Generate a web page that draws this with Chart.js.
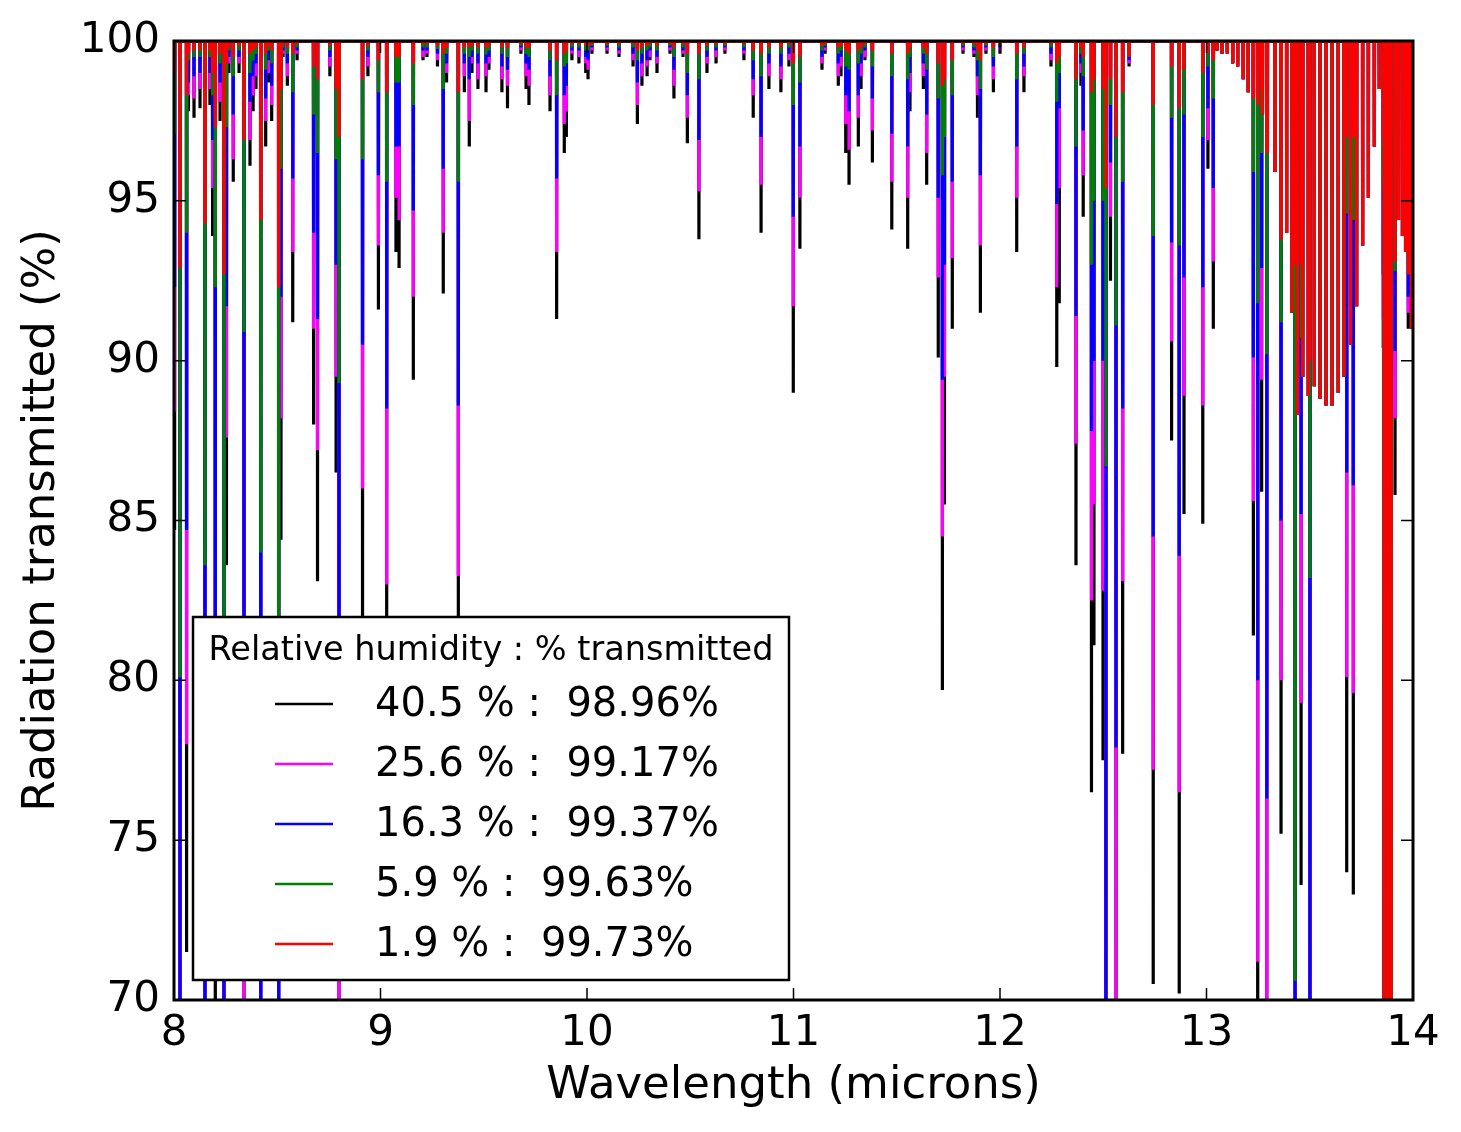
<!DOCTYPE html>
<html lang="en">
<head>
  <meta charset="UTF-8" />
  <title>Radiation transmitted vs wavelength</title>
  <script src="https://cdn.jsdelivr.net/npm/chart.js@4"></script>
  <style>
    body {
      margin: 0;
      background: #ffffff;
    }
    canvas {
      display: block;
    }
  </style>
</head>
<body>
  <canvas id="specChart" width="1461" height="1132"></canvas>

  <script>
    // water absorption lines: position (microns) and minimum transmission (%) per humidity
    const lineWl = [
      8.003, 8.029, 8.061, 8.070, 8.097, 8.126, 8.150, 8.174, 8.187, 8.200,
      8.223, 8.242, 8.254, 8.266, 8.287, 8.315, 8.339, 8.368, 8.383, 8.397,
      8.420, 8.444, 8.460, 8.473, 8.507, 8.518, 8.528, 8.549, 8.575, 8.596,
      8.676, 8.695, 8.755, 8.785, 8.799, 8.913, 8.939, 8.990, 9.030, 9.075,
      9.090, 9.159, 9.206, 9.225, 9.276, 9.304, 9.320, 9.377, 9.406, 9.430,
      9.443, 9.472, 9.511, 9.525, 9.588, 9.615, 9.680, 9.705, 9.719, 9.821,
      9.853, 9.890, 9.900, 9.927, 9.961, 9.994, 10.005, 10.024, 10.097, 10.155,
      10.223, 10.244, 10.266, 10.291, 10.305, 10.339, 10.402, 10.421, 10.465, 10.486,
      10.542, 10.581, 10.625, 10.668, 10.760, 10.805, 10.843, 10.881, 10.939, 10.978,
      10.999, 11.031, 11.138, 11.153, 11.217, 11.230, 11.253, 11.269, 11.314, 11.327,
      11.346, 11.382, 11.476, 11.553, 11.564, 11.629, 11.645, 11.701, 11.721, 11.731,
      11.769, 11.821, 11.874, 11.891, 11.905, 11.932, 11.968, 12.000, 12.081, 12.116,
      12.247, 12.275, 12.287, 12.368, 12.392, 12.403, 12.443, 12.455, 12.499, 12.513,
      12.535, 12.562, 12.594, 12.625, 12.742, 12.831, 12.868, 12.891, 12.982, 13.007,
      13.033, 13.227, 13.248, 13.267, 13.292, 13.361, 13.429, 13.458, 13.501, 13.679,
      13.711, 13.856, 13.913, 13.977
    ];

    const rh405 = [
      84.7, 55, 71.5, 97.8, 97.6, 97.9, 55, 98.0, 93.9, 66,
      97.5, 60, 83.6, 99.0, 95.6, 99.0, 62, 96.1, 97.8, 98.5,
      55, 96.7, 98.7, 97.5, 58, 84.4, 99.5, 98.6, 91.2, 99.4,
      88.0, 83.1, 98.9, 86.5, 60, 80.1, 98.9, 91.6, 82.0, 93.4,
      92.9, 89.4, 99.4, 99.5, 99.2, 92.1, 98.7, 82.0, 98.4, 96.7,
      99.0, 98.5, 98.4, 99.1, 98.4, 97.9, 99.6, 98.5, 98.0, 97.8,
      91.3, 96.5, 97.0, 99.4, 99.3, 99.0, 98.8, 99.6, 99.6, 99.5,
      99.2, 97.4, 98.6, 98.9, 99.4, 99.0, 99.6, 98.2, 99.5, 96.8,
      93.8, 99.0, 99.3, 99.6, 99.4, 97.6, 94.0, 98.5, 98.4, 99.2,
      89.0, 93.5, 99.1, 99.6, 98.6, 98.9, 96.5, 95.5, 96.7, 98.5,
      99.4, 96.2, 94.1, 93.5, 97.8, 98.5, 95.5, 90.1, 79.7, 85.5,
      91.0, 99.6, 99.5, 97.6, 91.5, 99.6, 98.4, 99.6, 93.4, 98.4,
      99.2, 89.8, 91.8, 83.6, 98.6, 94.5, 76.5, 81.1, 77.5, 55,
      92.5, 60, 77.7, 99.2, 70.5, 87.5, 70.2, 85.2, 84.9, 96.0,
      91.0, 81.4, 65, 85.9, 62, 75.2, 58, 73.6, 58, 74.0,
      73.3, 90.4, 85.8, 91.0
    ];

    const rh256 = [
      88.4, 60, 78.0, 98.3, 98.2, 98.5, 60, 98.5, 95.4, 73,
      98.1, 64, 87.6, 99.3, 96.3, 99.3, 67, 96.9, 98.3, 98.9,
      60, 97.5, 99.0, 98.0, 62, 88.2, 99.6, 98.9, 93.4, 99.6,
      91.0, 87.2, 99.2, 89.5, 66, 86.0, 99.2, 93.6, 83.0, 95.1,
      94.4, 92.0, 99.5, 99.6, 99.4, 94.0, 99.0, 83.3, 98.9, 97.5,
      99.3, 98.8, 98.9, 99.3, 98.8, 98.6, 99.7, 98.9, 98.6, 98.3,
      93.4, 97.4, 97.8, 99.6, 99.5, 99.3, 99.1, 99.7, 99.7, 99.6,
      99.4, 98.0, 98.9, 99.2, 99.5, 99.3, 99.7, 98.6, 99.6, 97.6,
      95.3, 99.3, 99.5, 99.7, 99.6, 98.3, 95.5, 98.9, 98.8, 99.4,
      91.7, 95.1, 99.3, 99.7, 98.9, 99.2, 97.4, 96.6, 97.6, 98.9,
      99.5, 97.2, 95.6, 95.1, 98.4, 98.9, 96.5, 92.6, 84.5, 89.5,
      93.2, 99.7, 99.6, 98.3, 93.6, 99.7, 98.8, 99.7, 95.1, 98.9,
      99.4, 92.3, 95.4, 87.4, 99.0, 95.8, 82.5, 85.5, 82.8, 60,
      94.5, 66, 83.1, 99.3, 77.2, 90.6, 76.5, 88.9, 88.6, 96.9,
      93.1, 85.6, 71.2, 89.4, 66, 80.0, 62, 79.3, 62, 80.1,
      79.6, 91.3, 88.2, 91.5
    ];

    const rh163 = [
      92.3, 66, 84.7, 98.7, 98.9, 99.0, 66, 99.0, 96.9, 78,
      98.7, 68, 91.7, 99.5, 97.7, 99.5, 75, 98.1, 98.9, 99.3,
      66, 98.2, 99.4, 98.6, 67, 92.0, 99.7, 99.3, 95.7, 99.7,
      94.0, 91.3, 99.5, 93.0, 74, 90.5, 99.5, 95.8, 88.5, 96.7,
      96.7, 94.7, 99.7, 99.7, 99.6, 96.0, 99.3, 88.6, 99.3, 98.8,
      99.5, 99.3, 99.3, 99.5, 99.2, 99.1, 99.8, 99.3, 99.1, 98.9,
      95.7, 98.3, 98.6, 99.7, 99.7, 99.5, 99.4, 99.8, 99.8, 99.7,
      99.6, 98.7, 99.3, 99.4, 99.7, 99.5, 99.8, 99.1, 99.7, 98.3,
      96.9, 99.5, 99.7, 99.8, 99.7, 98.8, 97.0, 99.3, 99.2, 99.6,
      94.5, 96.7, 99.5, 99.8, 99.3, 99.5, 98.3, 97.8, 98.3, 99.3,
      99.7, 98.2, 97.1, 96.7, 99.0, 99.3, 97.7, 95.1, 89.4, 93.0,
      95.6, 99.8, 99.7, 98.9, 95.8, 99.8, 99.2, 99.8, 96.7, 99.2,
      99.6, 94.9, 97.9, 91.4, 99.3, 97.2, 87.8, 90.0, 90.0, 65,
      96.2, 77.9, 88.5, 99.4, 84.5, 93.7, 83.9, 92.6, 92.3, 97.9,
      95.4, 90.1, 80.0, 92.9, 76.3, 85.0, 67, 85.2, 66, 86.5,
      86.1, 92.7, 90.3, 92.0
    ];

    const rh59 = [
      97.1, 80.1, 94.0, 99.4, 99.5, 99.5, 83.6, 99.5, 98.3, 92.3,
      99.3, 72, 97.3, 99.7, 98.9, 99.7, 90.9, 99.0, 99.4, 99.6,
      84.0, 99.1, 99.7, 99.3, 74, 96.0, 99.8, 99.6, 98.4, 99.8,
      97.7, 96.5, 99.7, 96.3, 89.3, 96.3, 99.7, 98.4, 95.6, 98.7,
      98.7, 98.0, 99.8, 99.8, 99.75, 98.5, 99.6, 95.6, 99.6, 99.5,
      99.7, 99.6, 99.6, 99.7, 99.6, 99.5, 99.85, 99.6, 99.5, 99.4,
      98.3, 99.2, 99.3, 99.8, 99.8, 99.7, 99.7, 99.85, 99.85, 99.8,
      99.8, 99.4, 99.6, 99.7, 99.8, 99.7, 99.85, 99.5, 99.8, 99.0,
      98.8, 99.7, 99.8, 99.85, 99.8, 99.4, 98.9, 99.6, 99.6, 99.8,
      98.0, 98.7, 99.7, 99.85, 99.6, 99.7, 99.2, 99.1, 99.3, 99.6,
      99.8, 99.2, 98.9, 98.8, 99.5, 99.6, 99.1, 98.2, 95.8, 97.0,
      98.3, 99.85, 99.8, 99.4, 98.5, 99.85, 99.5, 99.85, 98.8, 99.6,
      99.8, 98.1, 99.0, 96.7, 99.6, 98.9, 93.0, 95.0, 95.0, 86.7,
      98.0, 91.1, 95.6, 99.5, 93.9, 97.6, 93.6, 97.7, 97.0, 99.2,
      98.2, 95.9, 91.8, 96.5, 90.2, 91.2, 70.6, 90.7, 83.2, 94.6,
      94.4, 95.5, 92.8, 93.0
    ];

    const rh19 = [
      99.0, 92.9, 98.3, 99.6, 99.7, 99.7, 94.3, 99.7, 99.0, 97.3,
      99.6, 92.7, 99.3, 99.8, 99.5, 99.85, 96.9, 99.6, 99.7, 99.8,
      94.4, 99.6, 99.85, 99.7, 92.3, 98.5, 99.9, 99.8, 99.6, 99.9,
      99.2, 98.8, 99.85, 98.5, 97.0, 98.8, 99.85, 99.4, 98.4, 99.5,
      99.5, 99.3, 99.9, 99.9, 99.85, 99.6, 99.8, 98.4, 99.8, 99.8,
      99.85, 99.8, 99.8, 99.85, 99.8, 99.8, 99.9, 99.8, 99.8, 99.7,
      99.4, 99.6, 99.7, 99.9, 99.9, 99.85, 99.85, 99.9, 99.9, 99.9,
      99.9, 99.7, 99.8, 99.85, 99.9, 99.85, 99.9, 99.8, 99.9, 99.6,
      99.6, 99.85, 99.9, 99.9, 99.9, 99.7, 99.6, 99.8, 99.8, 99.9,
      99.3, 99.5, 99.85, 99.9, 99.8, 99.85, 99.7, 99.6, 99.7, 99.8,
      99.9, 99.7, 99.6, 99.6, 99.8, 99.8, 99.6, 99.3, 98.6, 98.8,
      99.4, 99.9, 99.9, 99.7, 99.4, 99.9, 99.8, 99.9, 99.6, 99.8,
      99.9, 99.3, 99.5, 98.8, 99.8, 99.5, 98.4, 98.8, 98.5, 95.4,
      98.8, 97.0, 98.4, 99.5, 98.0, 99.2, 97.9, 99.1, 99.0, 99.6,
      99.4, 98.2, 98.3, 98.5, 96.5, 93.8, 93.0, 93.0, 90.0, 97.0,
      97.0, 97.0, 95.0, 95.0
    ];

    // CO2 band (same for every humidity)
    const co2Wl = [
      13.051, 13.075, 13.101, 13.127, 13.151, 13.178, 13.202, 13.227, 13.249, 13.271,
      13.295, 13.332, 13.361, 13.388, 13.414, 13.440, 13.466, 13.493, 13.522, 13.550,
      13.579, 13.608, 13.638, 13.666, 13.698, 13.727, 13.756, 13.784, 13.813, 13.837,
      13.860, 13.877, 13.894, 13.913, 13.930, 13.949, 13.964, 13.978, 13.993
    ];
    const co2Min = [
      99.7, 99.6, 99.6, 99.3, 99.2, 98.8, 98.4, 98.2, 98.0, 97.7,
      96.5, 95.9, 93.8, 94.0, 91.5, 88.3, 89.5, 88.9, 89.2, 88.8,
      88.6, 88.6, 89.0, 89.5, 90.5, 91.7, 93.6, 95.1, 96.7, 98.5,
      60, 60, 62, 93.1, 94.4, 93.9, 93.4, 92.7, 91.0
    ];

    const humidity = ['40.5', '25.6', '16.3', '5.9', '1.9'];
    const meanTransmitted = ['98.96', '99.17', '99.37', '99.63', '99.73'];
    const xTicks = [8, 9, 10, 11, 12, 13, 14];
    const yTicks = [70, 75, 80, 85, 90, 95, 100];

    const lineHalf = 0.0008;   // half width of a water line, microns
    const bandHalf = 0.0005;   // half width of a CO2 line

    // turn the line list into a polyline going up to 100% between lines
    function buildSpectrum(depths) {
      const marks = [];
      lineWl.forEach((w, i) => marks.push([w, depths[i], lineHalf]));
      co2Wl.forEach((w, i) => marks.push([w, co2Min[i], bandHalf]));
      marks.sort((a, b) => a[0] - b[0]);

      const pts = [{ x: 8, y: 100 }];
      marks.forEach(([w, t, h]) => {
        pts.push({ x: w - h, y: 100 }, { x: w, y: t }, { x: w + h, y: 100 });
      });
      pts.push({ x: 14, y: 100 });
      return pts;
    }

    const series = [rh405, rh256, rh163, rh59, rh19];
    const colors = ['#000000', '#ff00ff', '#0000ff', '#008000', '#ff0000'];

    const datasets = series.map((s, i) => ({
      label: `${humidity[i]} % :  ${meanTransmitted[i]}%`,
      data: buildSpectrum(s),
      borderColor: colors[i],
      borderWidth: 3.2,
      borderJoinStyle: 'bevel',
      pointRadius: 0,
      tension: 0.00001,           // keeps every vertex (no per-pixel merging)
      fill: false,
      order: series.length - i   // red on top, black at the back
    }));

    const tickFont = { family: 'DejaVu Sans', size: 42 };
    const titleFont = { family: 'DejaVu Sans', size: 45 };

    // box, inward ticks on all four sides
    const frame = {
      id: 'frame',
      afterDatasetsDraw(chart) {
        const { ctx, chartArea: a, scales } = chart;
        ctx.save();
        ctx.strokeStyle = '#000';
        ctx.lineWidth = 1.5;
        ctx.beginPath();
        xTicks.forEach(v => {
          const px = scales.x.getPixelForValue(v);
          ctx.moveTo(px, a.bottom); ctx.lineTo(px, a.bottom - 12);
          ctx.moveTo(px, a.top); ctx.lineTo(px, a.top + 12);
        });
        yTicks.forEach(v => {
          const py = scales.y.getPixelForValue(v);
          ctx.moveTo(a.left, py); ctx.lineTo(a.left + 12, py);
          ctx.moveTo(a.right, py); ctx.lineTo(a.right - 12, py);
        });
        ctx.stroke();
        ctx.lineWidth = 3;
        ctx.strokeRect(a.left, a.top, a.right - a.left, a.bottom - a.top);
        ctx.restore();
      }
    };

    // legend box in the lower left of the plot
    const boxLegend = {
      id: 'boxLegend',
      afterDraw(chart) {
        const { ctx, chartArea: a } = chart;
        const w = 596, h = 363;
        const left = a.left + 19, top = a.bottom - 20 - h;
        ctx.save();
        ctx.fillStyle = '#fff';
        ctx.fillRect(left, top, w, h);
        ctx.strokeStyle = '#000';
        ctx.lineWidth = 2.5;
        ctx.strokeRect(left, top, w, h);

        ctx.fillStyle = '#000';
        ctx.textBaseline = 'middle';
        ctx.textAlign = 'center';
        ctx.font = '33.5px "DejaVu Sans"';
        ctx.fillText('Relative humidity : % transmitted', left + w / 2, top + 34);

        ctx.textAlign = 'left';
        ctx.font = '40px "DejaVu Sans"';
        chart.data.datasets.forEach((ds, i) => {
          const yy = top + 89 + 60 * i;
          ctx.strokeStyle = ds.borderColor;
          ctx.lineWidth = 2.5;
          ctx.beginPath();
          ctx.moveTo(left + 82, yy - 2);
          ctx.lineTo(left + 140, yy - 2);
          ctx.stroke();
          ctx.fillText(ds.label, left + 182, yy);
        });
        ctx.restore();
      }
    };

    new Chart(document.getElementById('specChart'), {
      type: 'line',
      data: { datasets },
      options: {
        responsive: false,
        animation: false,
        events: [],
        layout: { padding: { left: 0, right: 48, top: 41, bottom: 0 } },
        plugins: {
          legend: { display: false },
          tooltip: { enabled: false }
        },
        scales: {
          x: {
            type: 'linear',
            min: 8,
            max: 14,
            afterBuildTicks: s => { s.ticks = xTicks.map(v => ({ value: v })); },
            afterFit: s => { s.height = 132; },
            ticks: { font: tickFont, color: '#000', padding: 9, maxRotation: 0 },
            grid: { display: false, drawTicks: false },
            border: { display: false },
            title: {
              display: true,
              text: 'Wavelength (microns)',
              font: titleFont, color: '#000',
              padding: { top: 0, bottom: 19 }
            }
          },
          y: {
            type: 'linear',
            min: 70,
            max: 100,
            afterBuildTicks: s => { s.ticks = yTicks.map(v => ({ value: v })); },
            afterFit: s => { s.width = 174; },
            ticks: { font: tickFont, color: '#000', padding: 14 },
            grid: { display: false, drawTicks: false },
            border: { display: false },
            title: {
              display: true,
              text: 'Radiation transmitted (%)',
              font: titleFont, color: '#000',
              padding: { top: 15, bottom: 0 }
            }
          }
        }
      },
      plugins: [frame, boxLegend]
    });
  </script>
</body>
</html>
